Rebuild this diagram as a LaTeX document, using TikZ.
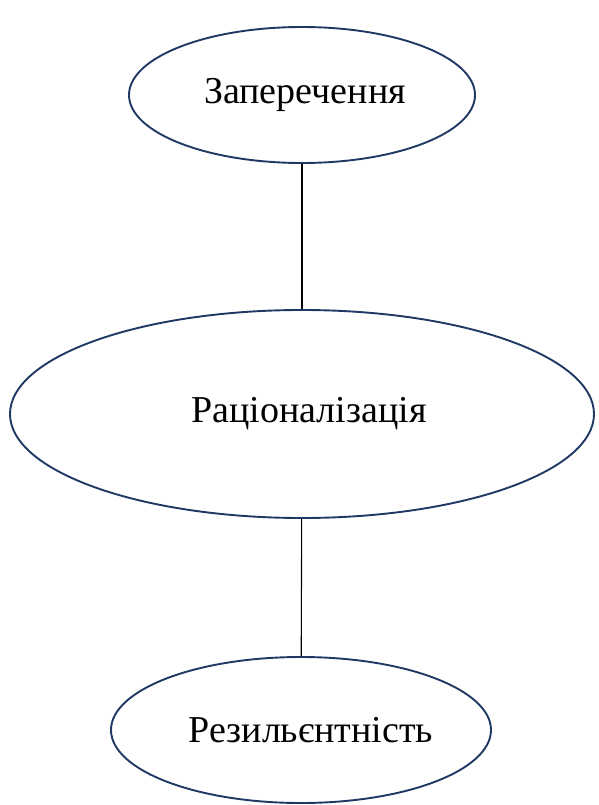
\documentclass[tikz,border=0pt]{standalone}
\usepackage{fontspec}
\setmainfont{Liberation Serif}
\usetikzlibrary{shapes.geometric}
\definecolor{navy}{HTML}{1F3864}
\begin{document}
\begin{tikzpicture}[x=1pt,y=-1pt,
  oval/.style={ellipse,draw=navy,line width=1.9pt,inner sep=0pt,font=\fontsize{38}{44}\selectfont},
  link/.style={draw=black,line width=1.1pt}]
\useasboundingbox (0,0) rectangle (599,805);
\node[oval,minimum width=346pt,minimum height=136pt] (zap) at (302,95) {\hspace*{6pt}Заперечення};
\node[oval,minimum width=584pt,minimum height=208pt] (rac) at (302,414) {\hspace*{14pt}Раціоналізація};
\node[oval,minimum width=380pt,minimum height=146pt] (rez) at (301,730) {\hspace*{20pt}Резильєнтність};
\draw[link] (zap) -- (rac);
\draw[link] (rac) -- (rez);
\end{tikzpicture}
\end{document}
